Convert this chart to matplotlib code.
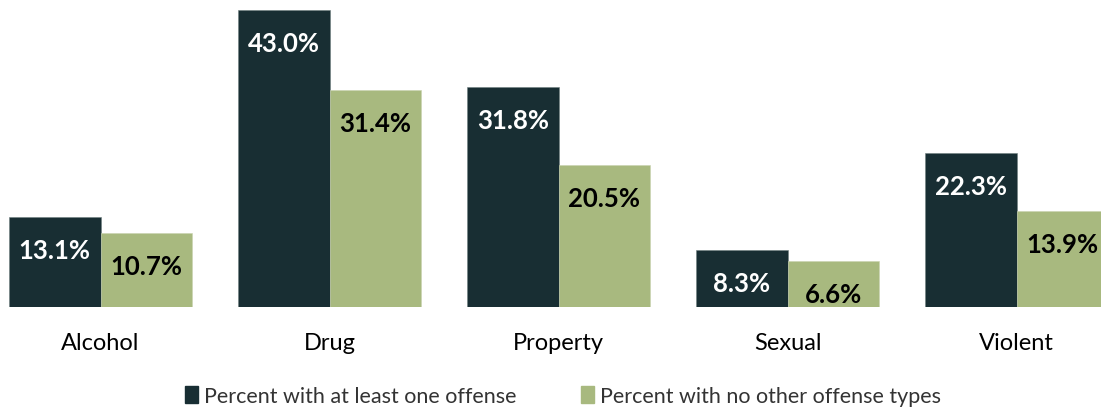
import numpy as np
import matplotlib.pyplot as plt
from matplotlib.patches import Patch

categories = ['Alcohol', 'Drug', 'Property', 'Sexual', 'Violent']
at_least_one = [13.1, 43.0, 31.8, 8.3, 22.3]
no_other = [10.7, 31.4, 20.5, 6.6, 13.9]
series_names = ['Percent with at least one offense', 'Percent with no other offense types']

dark = '#182e33'
green = '#a8b97f'

plt.rcParams['font.family'] = ['Lato', 'DejaVu Sans']

fig = plt.figure(figsize=(11.01, 4.10), dpi=100)
ax = fig.add_axes([0, 102 / 410, 1, 308 / 410])

x = np.arange(len(categories))
w = 0.4
b1 = ax.bar(x - w / 2, at_least_one, w, color=dark, edgecolor='#6f7f80', linewidth=0.4)
b2 = ax.bar(x + w / 2, no_other, w, color=green, edgecolor='#c9d3b0', linewidth=0.4)

# value labels sit just below the top of each bar
for bars, vals, col in [(b1, at_least_one, 'white'), (b2, no_other, 'black')]:
    for r, v in zip(bars, vals):
        ax.annotate(f'{v:.1f}%', (r.get_x() + r.get_width() / 2, v),
                    xytext=(0, -33), textcoords='offset pixels',
                    ha='center', va='center', fontsize=18.5, fontweight='bold', color=col)

left = -0.4 - 9 / 229
ax.set_xlim(left, left + 1101 / 229)
ax.set_ylim(0, 309 / 6.93)
ax.set_xticks(x)
ax.set_xticklabels(categories, fontsize=17)
ax.tick_params(axis='x', length=0, pad=18)
ax.set_yticks([])
for s in ax.spines.values():
    s.set_visible(False)

handles = [Patch(color=dark), Patch(color=green)]
fig.legend(handles, series_names, loc='center', bbox_to_anchor=(563 / 1101, 1 - 397 / 410),
           ncol=2, frameon=False, fontsize=15.5, handlelength=0.6, handleheight=0.8,
           handletextpad=0.3, columnspacing=3.0, labelcolor='#333333')

fig.savefig('out.png', dpi=100)
